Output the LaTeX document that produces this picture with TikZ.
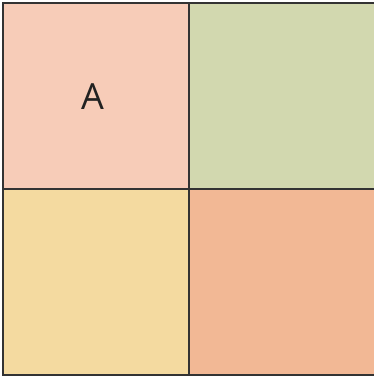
\documentclass[tikz,border=0pt]{standalone}
\usepackage{fontspec}
\setmainfont{Open Sans}
\definecolor{cA}{HTML}{F7CCB8}
\definecolor{cB}{HTML}{D2D8AF}
\definecolor{cC}{HTML}{F4DAA0}
\definecolor{cD}{HTML}{F2B895}
\definecolor{edge}{HTML}{333333}
\definecolor{ink}{HTML}{222222}
\begin{document}
\begin{tikzpicture}[x=1pt,y=-1pt,
  cell/.style={draw=edge,line width=1.2pt,minimum width=186pt,minimum height=186pt,inner sep=0pt,outer sep=0pt},
  lbl/.style={text=ink,inner sep=0pt,font=\fontsize{36}{40}\selectfont}]
\useasboundingbox (0,0) rectangle (373,377);
\node[cell,fill=cA] (a) at (96,96) {};
\node[cell,fill=cB] (b) at (282,96) {};
\node[cell,fill=cC] (c) at (96,282) {};
\node[cell,fill=cD] (d) at (282,282) {};
\node[lbl] (ta) at (92.5,97) {A};
\end{tikzpicture}
\end{document}
